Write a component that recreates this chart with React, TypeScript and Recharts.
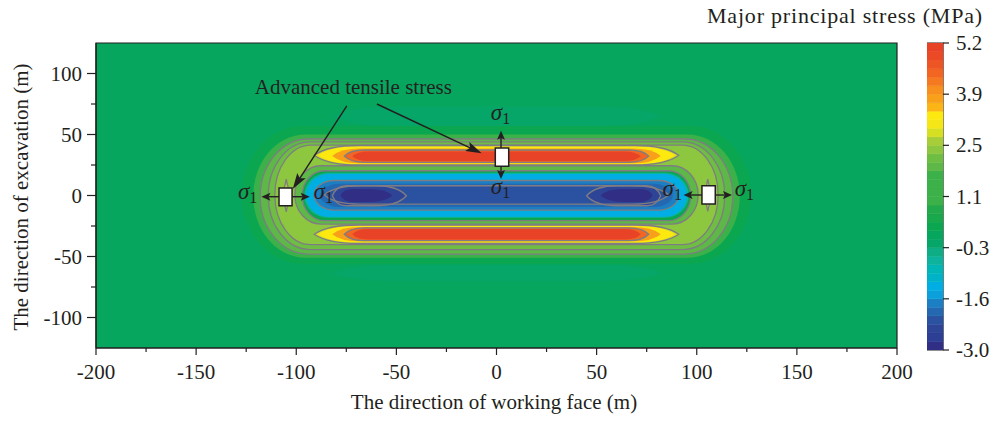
import { ComposedChart, XAxis, YAxis, Scatter, Bar, Cell, ReferenceArea, ReferenceLine, ReferenceDot } from "recharts";

const FONT = '"Liberation Serif", "Times New Roman", serif';
const INK = "#231f20";
const ISO = "#7f7d83";

// colour scale of the major principal stress (MPa), bottom to top
const levels = [
  -3.0, -2.772, -2.544, -2.317, -2.089, -1.861, -1.633, -1.406, -1.178, -0.95, -0.722, -0.494, -0.267,
  -0.039, 0.189, 0.417, 0.644, 0.872, 1.1, 1.328, 1.556, 1.783, 2.011, 2.239, 2.467, 2.694, 2.922, 3.15,
  3.378, 3.606, 3.833, 4.061, 4.289, 4.517, 4.744, 4.972, 5.2,
];
const levelColors = [
  "#302f85", "#2c3f95", "#2e4597", "#2b52a1", "#2368b0", "#1d7fc3", "#0ba0dc", "#00aee3", "#00b2c7",
  "#00b6b6", "#0db39d", "#0fad85", "#06a568", "#07a65e", "#0ba750", "#1aa84c", "#22a94b", "#3cb149",
  "#3cb149", "#3cb149", "#3cb149", "#5db847", "#6fbe44", "#8dc63f", "#a7cd39", "#d7df23", "#f5e617",
  "#fde910", "#fbb516", "#f9a01b", "#f7901e", "#f47920", "#f26522", "#ee5524", "#eb4a26", "#e84327",
];
const barTicks = [-3.0, -1.633, -0.267, 1.1, 2.467, 3.833, 5.2];
const barTickLabels = ["-3.0", "-1.6", "-0.3", "1.1", "2.5", "3.9", "5.2"];

const xMajor = [-200, -150, -100, -50, 0, 50, 100, 150, 200];
const xMinor = [-175, -125, -75, -25, 25, 75, 125, 175];
const yMajor = [-100, -50, 0, 50, 100];
const yMinor = [-75, -25, 25, 75];

type Zone = { x: [number, number]; y: [number, number]; cap: [number, number]; v: number };
type Kind = "round" | "lens" | "diamond";

const fieldValue = 0.05;

// faint low-stress lobes above and below the goaf
const faintZones: Zone[] = [
  { x: [-82, 82], y: [57, 73], cap: [30, 30], v: -0.15 },
  { x: [-82, 82], y: [-70, -57], cap: [30, 30], v: -0.15 },
];

// rings around the excavation
const ringZones: Zone[] = [
  { x: [-127, 127], y: [-56, 57], cap: [30, 30], v: 0.3 },
  { x: [-121.5, 121.5], y: [-51, 50], cap: [26, 26], v: 1.2 },
  { x: [-118, 118], y: [-48, 46.3], cap: [24, 24], v: 1.9 },
  { x: [-114, 114], y: [-44.3, 44], cap: [21, 21], v: 2.1 },
  { x: [-110.7, 110.7], y: [-40.3, 41.3], cap: [18, 18], v: 2.35 },
  { x: [-100.7, 100.7], y: [-23.4, 24.4], cap: [13, 13], v: 1.9 },
  { x: [-97, 97], y: [-20.6, 20.3], cap: [11, 11], v: 0.3 },
];

const tensileTop: Zone[] = [
  { x: [-91, 91], y: [25, 41], cap: [22, 22], v: 2.8 },
  { x: [-89, 89], y: [25.6, 40.2], cap: [20, 20], v: 3.25 },
  { x: [-82, 82], y: [26.4, 38.5], cap: [14, 14], v: 3.7 },
  { x: [-76, 76], y: [27.2, 37.3], cap: [10, 10], v: 4.4 },
  { x: [-72, 72], y: [28.3, 36], cap: [8, 8], v: 5.1 },
];
const tensileBottom: Zone[] = [
  { x: [-91, 91], y: [-39.3, -24.2], cap: [22, 22], v: 2.8 },
  { x: [-89, 89], y: [-38.5, -25], cap: [20, 20], v: 3.25 },
  { x: [-82, 82], y: [-37.6, -25.8], cap: [14, 14], v: 3.7 },
  { x: [-76, 76], y: [-37, -26.5], cap: [10, 10], v: 4.4 },
  { x: [-72, 72], y: [-36, -27.5], cap: [8, 8], v: 5.1 },
];

const compressionZones: Zone[] = [
  { x: [-96, 96], y: [-18.3, 18.6], cap: [12, 12], v: -0.6 },
  { x: [-95, 95], y: [-17.5, 17.6], cap: [11, 11], v: -1.3 },
  { x: [-91, 91], y: [-12, 12.3], cap: [10, 10], v: -1.75 },
  { x: [-88, 88], y: [-9.5, 9.6], cap: [10, 10], v: -2.0 },
];
const compressionLens: Zone[] = [
  { x: [-85, 85], y: [-7, 7.8], cap: [16, 16], v: -2.2 },
  { x: [-82, -45], y: [-8.4, 8], cap: [7, 15], v: -2.5 },
  { x: [45, 82], y: [-8.4, 8], cap: [15, 7], v: -2.5 },
  { x: [-78, -52], y: [-5.3, 5.3], cap: [6, 11], v: -2.9 },
  { x: [52, 78], y: [-5.3, 5.3], cap: [11, 6], v: -2.9 },
];

// advanced tensile stress ahead of the side walls
const sideZones: Zone[] = [
  { x: [-108, -102], y: [-13.5, 13.5], cap: [3, 3], v: 2.6 },
  { x: [102.5, 108.5], y: [-13, 13.5], cap: [3, 3], v: 2.6 },
];

const isoRound: Zone[] = [ringZones[2], ringZones[3], ringZones[4], ringZones[5], ringZones[6], compressionZones[2]];
const isoLens: Zone[] = [
  tensileTop[0], tensileTop[3], tensileBottom[0], tensileBottom[3],
  { x: [-86, 86], y: [-7, 8], cap: [18, 18], v: 0 },
  compressionLens[1], compressionLens[2],
];

// white stress elements
const elements = [
  { x: [-108.6, -102.1], y: [-8.4, 6.1] },
  { x: [102.6, 109.25], y: [-7, 8] },
  { x: [-0.6, 6.1], y: [23.9, 38.9] },
];
const stressArrows = [
  { from: [-108.6, -1], to: [-117.4, -1] },
  { from: [-102.1, -1], to: [-93.25, -1] },
  { from: [102.6, 0.4], to: [93.4, 0.4] },
  { from: [109.25, 0.4], to: [117.6, 0.4] },
  { from: [2.25, 38.9], to: [2.25, 53.1] },
  { from: [2.25, 23.9], to: [2.25, 13.5] },
];
const pointerArrows = [
  { from: [-74.75, 73.4], to: [-101.75, 5.3] },
  { from: [-59.75, 75], to: [-7.4, 34.6] },
];
const sigmaX = [-124.25, -86.5, 2, 2, 87.75, 123.75];
const sigmaY = [1.2, 1.2, 66, 5.3, 3.3, 3.3];
const noteX = -71.5;
const noteY = 83.2;

const sigmaPoints = sigmaX.map((x, i) => ({ x, y: sigmaY[i] }));
const barSegments = levelColors.map((_, i) => ({ pos: 0.5, band: [levels[i], levels[i + 1]] }));

function colorOf(v: number) {
  let i = levels.findIndex((l, k) => k < levelColors.length && v >= l && v < levels[k + 1]);
  if (i < 0) i = v < levels[0] ? 0 : levelColors.length - 1;
  return levelColors[i];
}

function zonePath(kind: Kind, r: any, z: Zone) {
  const { x, y, width: w, height: h } = r;
  const k = w / (z.x[1] - z.x[0]);
  const cl = Math.min(z.cap[0] * k, w / 2);
  const cr = Math.min(z.cap[1] * k, w / 2);
  const ym = y + h / 2;
  if (kind === "round")
    return `M${x + cl},${y}L${x + w - cr},${y}A${cr},${h / 2} 0 0 1 ${x + w - cr},${y + h}L${x + cl},${y + h}A${cl},${h / 2} 0 0 1 ${x + cl},${y}Z`;
  if (kind === "lens")
    return `M${x},${ym}Q${x + cl * 0.3},${y} ${x + cl},${y}L${x + w - cr},${y}Q${x + w - cr * 0.3},${y} ${x + w},${ym}Q${x + w - cr * 0.3},${y + h} ${x + w - cr},${y + h}L${x + cl},${y + h}Q${x + cl * 0.3},${y + h} ${x},${ym}Z`;
  const xm = x + w / 2;
  return `M${xm},${y}Q${x + w * 0.62},${y + h * 0.3} ${x + w},${ym}Q${x + w * 0.62},${y + h * 0.7} ${xm},${y + h}Q${x + w * 0.38},${y + h * 0.7} ${x},${ym}Q${x + w * 0.38},${y + h * 0.3} ${xm},${y}Z`;
}

function zones(list: Zone[], kind: Kind, key: string, outline = false) {
  return list.map((z, i) => (
    <ReferenceArea
      key={`${key}${i}`}
      x1={z.x[0]}
      x2={z.x[1]}
      y1={z.y[0]}
      y2={z.y[1]}
      ifOverflow="visible"
      shape={(p: any) => (
        <path
          d={zonePath(kind, p, z)}
          fill={outline ? "none" : colorOf(z.v)}
          stroke={outline ? ISO : "none"}
          strokeWidth={1.3}
        />
      )}
    />
  ));
}

function arrowShape(head: number, width: number) {
  return (p: any) => {
    const { x1, y1, x2, y2 } = p;
    const len = Math.hypot(x2 - x1, y2 - y1) || 1;
    const ux = (x2 - x1) / len;
    const uy = (y2 - y1) / len;
    const bx = x2 - ux * head;
    const by = y2 - uy * head;
    const nx = x2 - ux * head * 0.8;
    const ny = y2 - uy * head * 0.8;
    const px = (-uy * width) / 2;
    const py = (ux * width) / 2;
    return (
      <g>
        <line x1={x1} y1={y1} x2={nx} y2={ny} stroke={INK} strokeWidth={1.4} />
        <polygon points={`${x2},${y2} ${bx + px},${by + py} ${nx},${ny} ${bx - px},${by - py}`} fill={INK} />
      </g>
    );
  };
}

const XTick = (p: any) => {
  const v = p.payload.value;
  const major = xMajor.includes(v);
  return (
    <g>
      <line x1={p.x} x2={p.x} y1={p.y} y2={p.y + (major ? 7 : 4)} stroke={INK} strokeWidth={1.2} />
      {major && (
        <text x={p.x} y={p.y + 31} textAnchor="middle" fontSize={21} fontFamily={FONT} fill={INK}>
          {v}
        </text>
      )}
    </g>
  );
};

const YTick = (p: any) => {
  const v = p.payload.value;
  const major = yMajor.includes(v);
  return (
    <g>
      <line x1={p.x} x2={p.x - (major ? 9 : 5)} y1={p.y} y2={p.y} stroke={INK} strokeWidth={1.2} />
      {major && (
        <text x={p.x - 14} y={p.y + 7} textAnchor="end" fontSize={21} fontFamily={FONT} fill={INK}>
          {v}
        </text>
      )}
    </g>
  );
};

const BarTick = (p: any) => {
  const i = barTicks.indexOf(p.payload.value);
  return (
    <g>
      <line x1={p.x} x2={p.x + 6} y1={p.y} y2={p.y} stroke={INK} strokeWidth={1.2} />
      <text x={p.x + 13} y={p.y + 7} textAnchor="start" fontSize={21} fontFamily={FONT} fill={INK}>
        {barTickLabels[i]}
      </text>
    </g>
  );
};

export default function App() {
  return (
    <div style={{ position: "absolute", left: 0, top: 0, width: 996, height: 421, background: "#fff", fontFamily: FONT }}>
      <ComposedChart width={996} height={421} margin={{ top: 43, right: 99, bottom: 43, left: 36 }}>
        <XAxis
          type="number"
          dataKey="x"
          domain={[-200, 200]}
          ticks={[...xMajor, ...xMinor].sort((a, b) => a - b)}
          interval={0}
          allowDataOverflow
          height={30}
          tickSize={0}
          tickMargin={0}
          tickLine={false}
          axisLine={{ stroke: INK, strokeWidth: 1.2 }}
          tick={(p: any) => <XTick {...p} />}
        />
        <YAxis
          type="number"
          dataKey="y"
          domain={[-125, 125]}
          ticks={[...yMajor, ...yMinor].sort((a, b) => a - b)}
          interval={0}
          allowDataOverflow
          width={60}
          tickSize={0}
          tickMargin={0}
          tickLine={false}
          axisLine={{ stroke: INK, strokeWidth: 1.2 }}
          tick={(p: any) => <YTick {...p} />}
        />
        <ReferenceArea x1={-200} x2={200} y1={-125} y2={125} fill={colorOf(fieldValue)} fillOpacity={1} stroke="none" />
        {zones(faintZones, "lens", "f")}
        {zones(ringZones, "round", "r")}
        {zones(sideZones, "diamond", "s")}
        {zones(tensileTop, "lens", "tt")}
        {zones(tensileBottom, "lens", "tb")}
        {zones(compressionZones, "round", "c")}
        {zones(compressionLens, "lens", "cl")}
        {zones(isoRound, "round", "ir", true)}
        {zones(isoLens, "lens", "il", true)}
        {zones(sideZones, "diamond", "is", true)}
        {elements.map((e, i) => (
          <ReferenceArea
            key={`e${i}`}
            x1={e.x[0]}
            x2={e.x[1]}
            y1={e.y[0]}
            y2={e.y[1]}
            fill="#ffffff"
            fillOpacity={1}
            stroke={INK}
            strokeWidth={1.5}
          />
        ))}
        {stressArrows.map((a, i) => (
          <ReferenceLine
            key={`sa${i}`}
            segment={[{ x: a.from[0], y: a.from[1] }, { x: a.to[0], y: a.to[1] }]}
            ifOverflow="visible"
            shape={arrowShape(9, 8)}
          />
        ))}
        {pointerArrows.map((a, i) => (
          <ReferenceLine
            key={`pa${i}`}
            segment={[{ x: a.from[0], y: a.from[1] }, { x: a.to[0], y: a.to[1] }]}
            ifOverflow="visible"
            shape={arrowShape(16, 10)}
          />
        ))}
        <ReferenceDot
          x={noteX}
          y={noteY}
          r={0}
          ifOverflow="visible"
          shape={(p: any) => (
            <text x={p.cx} y={p.cy} textAnchor="middle" fontSize={21} fontFamily={FONT} fill={INK}>
              Advanced tensile stress
            </text>
          )}
        />
        <Scatter
          data={sigmaPoints}
          dataKey="y"
          isAnimationActive={false}
          shape={(p: any) => (
            <text x={p.cx} y={p.cy + 5} textAnchor="middle" fontFamily={FONT} fill={INK}>
              <tspan fontStyle="italic" fontSize={23}>σ</tspan>
              <tspan fontSize={16} dy={4}>1</tspan>
            </text>
          )}
        />
        <ReferenceArea x1={-200} x2={200} y1={-125} y2={125} fill="none" stroke={INK} strokeWidth={1.2} />
      </ComposedChart>

      <div style={{ position: "absolute", left: 927, top: 0 }}>
        <ComposedChart width={76} height={421} data={barSegments} margin={{ top: 43, right: 0, bottom: 71, left: 0 }}>
          <XAxis type="number" dataKey="pos" domain={[0, 1]} hide />
          <YAxis
            type="number"
            orientation="right"
            domain={[-3, 5.2]}
            ticks={barTicks}
            interval={0}
            allowDataOverflow
            width={60}
            tickSize={0}
            tickMargin={0}
            tickLine={false}
            axisLine={false}
            tick={(p: any) => <BarTick {...p} />}
          />
          <Bar dataKey="band" barSize={16} isAnimationActive={false}>
            {levelColors.map((c, i) => (
              <Cell key={`b${i}`} fill={c} stroke={c} strokeWidth={0.5} />
            ))}
          </Bar>
          <ReferenceArea x1={0} x2={1} y1={-3} y2={5.2} fill="none" stroke={INK} strokeWidth={1.2} />
        </ComposedChart>
      </div>

      <svg width={996} height={421} style={{ position: "absolute", left: 0, top: 0, pointerEvents: "none" }}>
        <text x={707} y={23} fontSize={22} letterSpacing={0.8} fontFamily={FONT} fill={INK}>
          Major principal stress (MPa)
        </text>
        <text x={494} y={409} textAnchor="middle" fontSize={21} fontFamily={FONT} fill={INK}>
          The direction of working face (m)
        </text>
        <text transform="translate(28,197) rotate(-90)" textAnchor="middle" fontSize={21} fontFamily={FONT} fill={INK}>
          The direction of excavation (m)
        </text>
      </svg>
    </div>
  );
}
